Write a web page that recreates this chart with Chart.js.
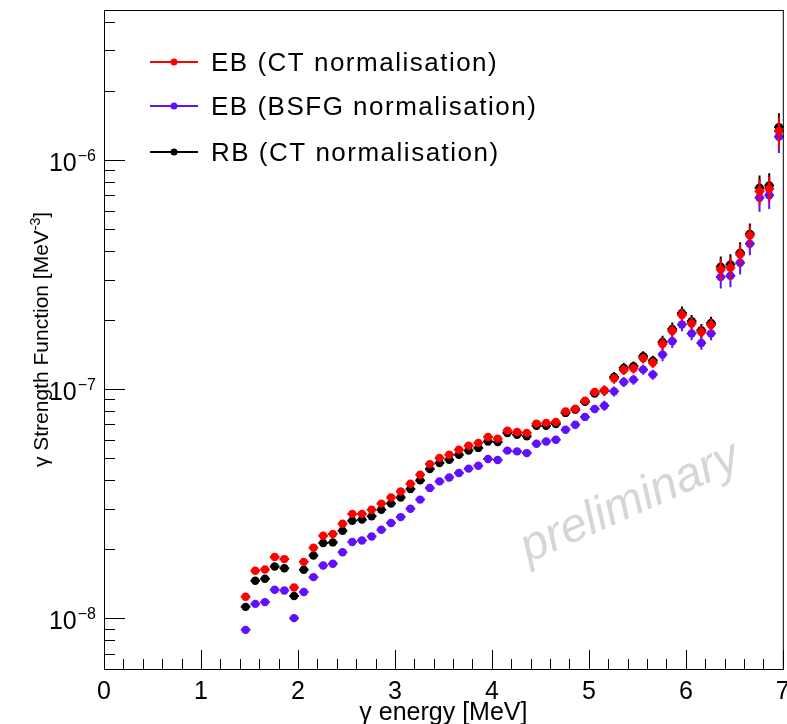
<!DOCTYPE html>
<html>
<head>
<meta charset="UTF-8">
<title>gamma strength function</title>
<script src="https://cdn.jsdelivr.net/npm/chart.js@4"></script>
<style>
  html, body { margin: 0; padding: 0; background: #fff; }
  #wrap { width: 787px; height: 724px; }
</style>
</head>
<body>
<div id="wrap"><canvas id="chart" width="787" height="724"></canvas></div>
<script>
// gamma energy bin centres [MeV]
const energy = [
  1.46, 1.56, 1.66, 1.76, 1.86, 1.96, 2.06, 2.16, 2.26, 2.36,
  2.46, 2.56, 2.66, 2.76, 2.86, 2.96, 3.06, 3.16, 3.26, 3.36,
  3.46, 3.56, 3.66, 3.76, 3.86, 3.96, 4.06, 4.16, 4.26, 4.36,
  4.46, 4.56, 4.66, 4.76, 4.86, 4.96, 5.06, 5.16, 5.26, 5.36,
  5.46, 5.56, 5.66, 5.76, 5.86, 5.96, 6.06, 6.16, 6.26, 6.36,
  6.46, 6.56, 6.66, 6.76, 6.86, 6.96
]

// EB (CT normalisation)
const ebCT = [
  1.24e-8, 1.61e-8, 1.63e-8, 1.85e-8, 1.81e-8, 1.36e-8, 1.76e-8, 2.03e-8, 2.29e-8, 2.33e-8,
  2.58e-8, 2.85e-8, 2.85e-8, 2.97e-8, 3.16e-8, 3.36e-8, 3.57e-8, 3.86e-8, 4.22e-8, 4.70e-8,
  5.00e-8, 5.16e-8, 5.43e-8, 5.65e-8, 5.81e-8, 6.17e-8, 6.07e-8, 6.58e-8, 6.49e-8, 6.42e-8,
  7.06e-8, 7.11e-8, 7.18e-8, 7.98e-8, 8.20e-8, 8.89e-8, 9.70e-8, 9.85e-8, 1.11e-7, 1.21e-7,
  1.23e-7, 1.36e-7, 1.30e-7, 1.57e-7, 1.79e-7, 2.10e-7, 1.93e-7, 1.77e-7, 1.90e-7, 3.32e-7,
  3.38e-7, 3.86e-7, 4.67e-7, 7.29e-7, 7.47e-7, 1.334e-6
]

// EB (BSFG normalisation)
const ebBSFG = [
  8.89e-9, 1.154e-8, 1.175e-8, 1.33e-8, 1.32e-8, 1.00e-8, 1.30e-8, 1.51e-8, 1.697e-8, 1.726e-8,
  1.94e-8, 2.15e-8, 2.18e-8, 2.27e-8, 2.43e-8, 2.60e-8, 2.76e-8, 3.00e-8, 3.29e-8, 3.70e-8,
  3.95e-8, 4.11e-8, 4.30e-8, 4.49e-8, 4.62e-8, 4.95e-8, 4.90e-8, 5.38e-8, 5.34e-8, 5.25e-8,
  5.77e-8, 5.90e-8, 6.00e-8, 6.64e-8, 6.98e-8, 7.55e-8, 8.18e-8, 8.45e-8, 9.76e-8, 1.073e-7,
  1.098e-7, 1.214e-7, 1.155e-7, 1.412e-7, 1.614e-7, 1.909e-7, 1.744e-7, 1.586e-7, 1.744e-7, 3.08e-7,
  3.12e-7, 3.55e-7, 4.30e-7, 6.82e-7, 7.00e-7, 1.259e-6
]

// RB (CT normalisation)
const rbCT = [
  1.12e-8, 1.455e-8, 1.485e-8, 1.68e-8, 1.65e-8, 1.25e-8, 1.625e-8, 1.876e-8, 2.126e-8, 2.14e-8,
  2.405e-8, 2.66e-8, 2.69e-8, 2.78e-8, 2.97e-8, 3.16e-8, 3.36e-8, 3.66e-8, 3.99e-8, 4.47e-8,
  4.75e-8, 4.91e-8, 5.16e-8, 5.39e-8, 5.53e-8, 5.90e-8, 5.87e-8, 6.42e-8, 6.31e-8, 6.21e-8,
  6.91e-8, 6.91e-8, 7.03e-8, 7.86e-8, 8.12e-8, 8.78e-8, 9.54e-8, 9.83e-8, 1.128e-7, 1.236e-7,
  1.256e-7, 1.389e-7, 1.329e-7, 1.604e-7, 1.828e-7, 2.147e-7, 1.973e-7, 1.803e-7, 1.94e-7, 3.41e-7,
  3.49e-7, 3.93e-7, 4.75e-7, 7.55e-7, 7.72e-7, 1.388e-6
]

// relative vertical error
const relErr = [
  0.03, 0.03, 0.03, 0.03, 0.03, 0.03, 0.03, 0.03, 0.03, 0.03,
  0.03, 0.03, 0.03, 0.03, 0.03, 0.03, 0.03, 0.03, 0.03, 0.03,
  0.03, 0.03, 0.03, 0.03, 0.03, 0.03, 0.03, 0.03, 0.03, 0.03,
  0.035, 0.035, 0.035, 0.035, 0.035, 0.035, 0.035, 0.05, 0.05, 0.05,
  0.05, 0.05, 0.05, 0.065, 0.065, 0.065, 0.065, 0.065, 0.065, 0.11,
  0.11, 0.11, 0.11, 0.13, 0.13, 0.15
]
const halfBin = 0.05

const xTicks = [0, 1, 2, 3, 4, 5, 6, 7]
const yTicks = [1e-8, 1e-7, 1e-6]
const yTickExp = ['\u22128', '\u22127', '\u22126']

const FONT = '"Liberation Sans", Arial, Helvetica, sans-serif'
const RED = '#ff0000'
const VIOLET = '#6010ff'
const BLACK = '#000000'

const pts = arr => energy.map((x, i) => ({ x: x, y: arr[i] }))

const series = [
  { label: 'EB (CT normalisation)', data: pts(ebCT), color: RED },
  { label: 'EB (BSFG normalisation)', data: pts(ebBSFG), color: VIOLET },
  { label: 'RB (CT normalisation)', data: pts(rbCT), color: BLACK }
]

// ROOT-like frame, ticks, legend and error bars
const rootStyle = {
  id: 'rootStyle',
  beforeDatasetsDraw(chart) {
    const ctx = chart.ctx
    ctx.save()
    ctx.translate(630, 503)
    ctx.rotate(-24 * Math.PI / 180)
    ctx.font = 'italic 48px ' + FONT
    ctx.fillStyle = '#d6d6d6'
    ctx.textAlign = 'center'
    ctx.textBaseline = 'middle'
    ctx.fillText('preliminary', 0, 0)
    ctx.restore()
  },
  beforeDatasetDraw(chart, args) {
    const ctx = chart.ctx
    const xs = chart.scales.x, ys = chart.scales.y
    const ds = chart.data.datasets[args.index]
    ctx.save()
    ctx.strokeStyle = ds.borderColor
    ctx.lineWidth = 2
    ds.data.forEach((p, i) => {
      const px = xs.getPixelForValue(p.x)
      const py = ys.getPixelForValue(p.y)
      const e = relErr[i] * p.y
      ctx.beginPath()
      ctx.moveTo(px, ys.getPixelForValue(p.y + e))
      ctx.lineTo(px, ys.getPixelForValue(p.y - e))
      ctx.moveTo(xs.getPixelForValue(p.x - halfBin), py)
      ctx.lineTo(xs.getPixelForValue(p.x + halfBin), py)
      ctx.stroke()
    })
    ctx.restore()
  },
  afterDraw(chart) {
    const ctx = chart.ctx
    const a = chart.chartArea
    const xs = chart.scales.x, ys = chart.scales.y
    ctx.save()
    ctx.strokeStyle = '#000'
    ctx.lineWidth = 1
    ctx.strokeRect(a.left + 0.5, a.top + 0.5, a.right - a.left, a.bottom - a.top)

    // x ticks
    ctx.beginPath()
    for (let v = 0; v <= 7.0001; v += 0.2) {
      const px = Math.round(xs.getPixelForValue(v)) + 0.5
      const major = Math.abs(v - Math.round(v)) < 1e-6
      ctx.moveTo(px, a.bottom)
      ctx.lineTo(px, a.bottom - (major ? 19 : 10))
    }
    // y ticks
    for (let d = -9; d <= -6; d++) {
      for (let m = 1; m <= 9; m++) {
        const v = m * Math.pow(10, d)
        if (v < ys.min || v > ys.max) continue
        const py = Math.round(ys.getPixelForValue(v)) + 0.5
        ctx.moveTo(a.left, py)
        ctx.lineTo(a.left + (m === 1 ? 21 : 11), py)
      }
    }
    ctx.stroke()

    // x tick labels
    ctx.fillStyle = '#000'
    ctx.font = '25px ' + FONT
    ctx.textAlign = 'center'
    ctx.textBaseline = 'alphabetic'
    xTicks.forEach(v => ctx.fillText(String(v), xs.getPixelForValue(v), a.bottom + 30))

    // y tick labels 10^n
    yTicks.forEach((v, i) => {
      const py = ys.getPixelForValue(v)
      ctx.font = '16px ' + FONT
      ctx.textAlign = 'left'
      const ew = ctx.measureText(yTickExp[i]).width
      const right = a.left - 8
      ctx.fillText(yTickExp[i], right - ew, py + 1)
      ctx.font = '25px ' + FONT
      ctx.textAlign = 'right'
      ctx.fillText('10', right - ew - 1, py + 11)
    })

    // x title
    ctx.font = '25px ' + FONT
    ctx.textAlign = 'center'
    ctx.fillText('\u03b3 energy [MeV]', (a.left + a.right) / 2, 720)

    // y title
    ctx.save()
    ctx.translate(48, (a.top + a.bottom) / 2)
    ctx.rotate(-Math.PI / 2)
    const t1 = '\u03b3 Strength Function [MeV', t2 = '-3', t3 = ']'
    ctx.font = '21px ' + FONT
    const w1 = ctx.measureText(t1).width, w3 = ctx.measureText(t3).width
    ctx.font = '14px ' + FONT
    const w2 = ctx.measureText(t2).width
    const x0 = -(w1 + w2 + w3) / 2
    ctx.textAlign = 'left'
    ctx.font = '21px ' + FONT
    ctx.fillText(t1, x0, 0)
    ctx.font = '14px ' + FONT
    ctx.fillText(t2, x0 + w1, -8)
    ctx.font = '21px ' + FONT
    ctx.fillText(t3, x0 + w1 + w2, 0)
    ctx.restore()

    // legend
    const legY = [62, 106, 152]
    series.forEach((s, i) => {
      const y = legY[i]
      ctx.strokeStyle = s.color
      ctx.fillStyle = s.color
      ctx.lineWidth = 2
      ctx.beginPath()
      ctx.moveTo(150, y)
      ctx.lineTo(198, y)
      ctx.stroke()
      ctx.beginPath()
      ctx.arc(174, y, 3.5, 0, Math.PI * 2)
      ctx.fill()
      ctx.fillStyle = '#000'
      ctx.font = '26px ' + FONT
      ctx.letterSpacing = '1.5px'
      ctx.textAlign = 'left'
      ctx.fillText(s.label, 211, y + 9)
      ctx.letterSpacing = '0px'
    })
    ctx.restore()
  }
}

new Chart(document.getElementById('chart'), {
  type: 'scatter',
  data: {
    datasets: series.map(s => ({
      label: s.label,
      data: s.data,
      backgroundColor: s.color,
      borderColor: s.color,
      pointRadius: 4.2,
      pointBorderWidth: 0,
      pointHoverRadius: 4.2,
      showLine: false,
      clip: false
    }))
  },
  options: {
    responsive: false,
    animation: false,
    devicePixelRatio: 1,
    layout: { padding: { left: 104, top: 10, right: 2, bottom: 55 } },
    scales: {
      x: { type: 'linear', min: 0, max: 7, display: false },
      y: { type: 'logarithmic', min: 6e-9, max: 4.5e-6, display: false }
    },
    plugins: { legend: { display: false }, tooltip: { enabled: false } }
  },
  plugins: [rootStyle]
})
</script>
</body>
</html>
